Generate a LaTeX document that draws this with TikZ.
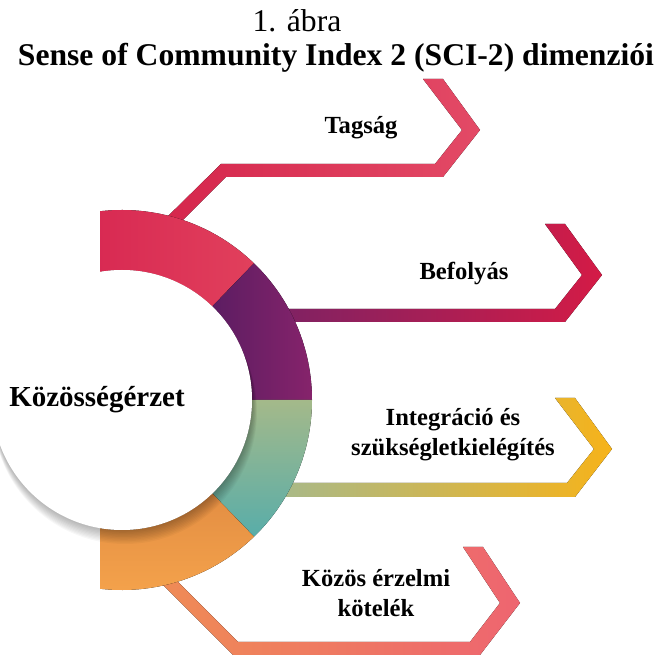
\documentclass[tikz,border=0pt]{standalone}
\usepackage{fontspec}
\setmainfont{Liberation Serif}
\usetikzlibrary{positioning}
% szinek
\definecolor{tagL}{HTML}{D5264C}
\definecolor{tagR}{HTML}{E34A66}
\definecolor{befL}{HTML}{7C2264}
\definecolor{befR}{HTML}{D41B46}
\definecolor{intL}{HTML}{A6B98C}
\definecolor{intR}{HTML}{F6B31A}
\definecolor{kozL}{HTML}{EF8C55}
\definecolor{kozR}{HTML}{EE6570}
\definecolor{gyPiros}{HTML}{D62450}
\definecolor{gyPiros2}{HTML}{E1405C}
\definecolor{gyLila}{HTML}{5C1D62}
\definecolor{gyLila2}{HTML}{86236B}
\definecolor{gyZold}{HTML}{A4B98A}
\definecolor{gyTurk}{HTML}{58ADA9}
\definecolor{gyNarancs}{HTML}{E38E43}
\definecolor{gyNarancs2}{HTML}{F6A44C}
\tikzset{
  cimke/.style={font=\bfseries\fontsize{14}{17}\selectfont,align=center,inner sep=0pt},
  cim/.style={font=\fontsize{18}{20}\selectfont,inner sep=0pt,anchor=base},
}

\begin{document}
\begin{tikzpicture}[x=0.02cm,y=0.02cm]
  \useasboundingbox (0,0) rectangle (664,657);
  \coordinate (kp) at (122,257);
  \node[cim] (abra) at (297,625) {1. ábra};
  \node[cim,font=\bfseries\fontsize{18}{20}\selectfont] (cim) at (336,591)
    {Sense of Community Index 2 (SCI-2) dimenziói};
  % savok
  \fill[left color=tagL,right color=tagR] (160,433) -- (221,493) -- (435,493)
    -- (462,527) -- (423,578) -- (443,578) -- (480,527) -- (443,480)
    -- (226,480) -- (170,424) -- cycle;
  \fill[left color=befL,right color=befR] (270,348) -- (555,348) -- (582,382)
    -- (545,433) -- (565,433) -- (602,382) -- (565,335) -- (270,335) -- cycle;
  \fill[left color=intL,right color=intR] (270,174) -- (567,174) -- (594,208)
    -- (555,259) -- (575,259) -- (612,208) -- (575,160) -- (270,160) -- cycle;
  \fill[left color=kozL,right color=kozR] (168,85) -- (238,15) -- (470,15)
    -- (500,54) -- (463,110) -- (483,110) -- (520,54) -- (480,2)
    -- (233,2) -- (153,82) -- cycle;
  % gyuru
  \begin{scope}
    \clip (100,0) rectangle (664,657);
    \fill[left color=gyPiros,right color=gyPiros2] ([shift={(46:190)}]kp)
      arc[start angle=46,end angle=110,radius=190] -- ([shift={(110:130)}]kp)
      arc[start angle=110,end angle=46,radius=130] -- cycle;
    \fill[left color=gyLila,right color=gyLila2] ([shift={(0:190)}]kp)
      arc[start angle=0,end angle=46,radius=190] -- ([shift={(46:130)}]kp)
      arc[start angle=46,end angle=0,radius=130] -- cycle;
    \fill[top color=gyZold,bottom color=gyTurk] ([shift={(-46:190)}]kp)
      arc[start angle=-46,end angle=0,radius=190] -- ([shift={(0:130)}]kp)
      arc[start angle=0,end angle=-46,radius=130] -- cycle;
    \fill[top color=gyNarancs,bottom color=gyNarancs2] ([shift={(-110:190)}]kp)
      arc[start angle=-110,end angle=-46,radius=190] -- ([shift={(-46:130)}]kp)
      arc[start angle=-46,end angle=-110,radius=130] -- cycle;
  \end{scope}
  % arnyek a kor alatt
  \foreach \k in {1,...,10}
    \fill[black,opacity=0.03] (122+0.3*\k,257-1.2*\k) circle[radius=130+0.2*\k];
  \fill[white] (kp) circle[radius=130];
  % feliratok
  \node[cimke,font=\bfseries\fontsize{16.5}{19}\selectfont] (kozep) at (97,257) {Közösségérzet};
  \node[cimke] (tag) at (361,529) {Tagság};
  \node[cimke] (bef) at (464,384) {Befolyás};
  \node[cimke] (int) at (453,222) {Integráció és\\szükségletkielégítés};
  \node[cimke] (koz) at (376,64) {Közös érzelmi\\kötelék};
\end{tikzpicture}
\end{document}
